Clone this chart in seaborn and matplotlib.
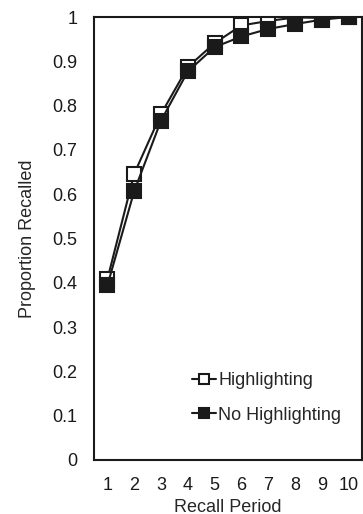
import matplotlib
matplotlib.use("Agg")
import matplotlib.pyplot as plt
import pandas as pd
import seaborn as sns

# values
recall_period = [1, 2, 3, 4, 5, 6, 7, 8, 9, 10]
highlighting = [0.408, 0.646, 0.781, 0.887, 0.941, 0.981, 0.991, 0.999, 0.998, 1.0]
no_highlighting = [0.394, 0.607, 0.766, 0.877, 0.932, 0.956, 0.973, 0.984, 0.994, 1.0]
y_ticks = [0, 0.1, 0.2, 0.3, 0.4, 0.5, 0.6, 0.7, 0.8, 0.9, 1]
y_tick_labels = ["0", "0.1", "0.2", "0.3", "0.4", "0.5", "0.6", "0.7", "0.8", "0.9", "1"]

df = pd.DataFrame({
    "Recall Period": recall_period * 2,
    "Proportion Recalled": highlighting + no_highlighting,
    "Condition": ["Highlighting"] * 10 + ["No Highlighting"] * 10,
})

sns.set_style("white")
plt.rcParams["font.family"] = ["Liberation Sans", "DejaVu Sans"]

fig, ax = plt.subplots(figsize=(3.63, 5.14), dpi=100)
fig.subplots_adjust(left=94 / 363, right=362 / 363, top=1 - 17 / 514, bottom=1 - 460 / 514)

styles = {
    "Highlighting": "white",
    "No Highlighting": "#1a1a1a",
}
for cond, face in styles.items():
    sub = df[df["Condition"] == cond]
    sns.lineplot(
        data=sub, x="Recall Period", y="Proportion Recalled", ax=ax,
        color="#1a1a1a", marker="s", markersize=9.5, markerfacecolor=face,
        markeredgecolor="#1a1a1a", markeredgewidth=1.5, linewidth=1.5,
        label=cond,
    )

fs = 13
ax.set_xlim(0.5, 10.5)
ax.set_ylim(0, 1)
ax.set_xticks(recall_period)
ax.set_yticks(y_ticks)
ax.set_yticklabels(y_tick_labels)
ax.tick_params(axis="both", direction="in", length=4, width=1.2, labelsize=fs,
               colors="#1a1a1a", pad=12)
ax.tick_params(axis="x", pad=12)
for s in ax.spines.values():
    s.set_color("#1a1a1a")
    s.set_linewidth(1.5)
ax.set_xlabel("Recall Period", fontsize=fs, labelpad=3.5)
ax.set_ylabel("Proportion Recalled", fontsize=fs, labelpad=12)

leg = ax.legend(loc="lower left", bbox_to_anchor=(0.34, 0.066), frameon=False,
                handlelength=1.33, handletextpad=0.1, labelspacing=0.95,
                fontsize=fs, borderaxespad=0, markerscale=0.8)

fig.savefig("out.png", dpi=100)
